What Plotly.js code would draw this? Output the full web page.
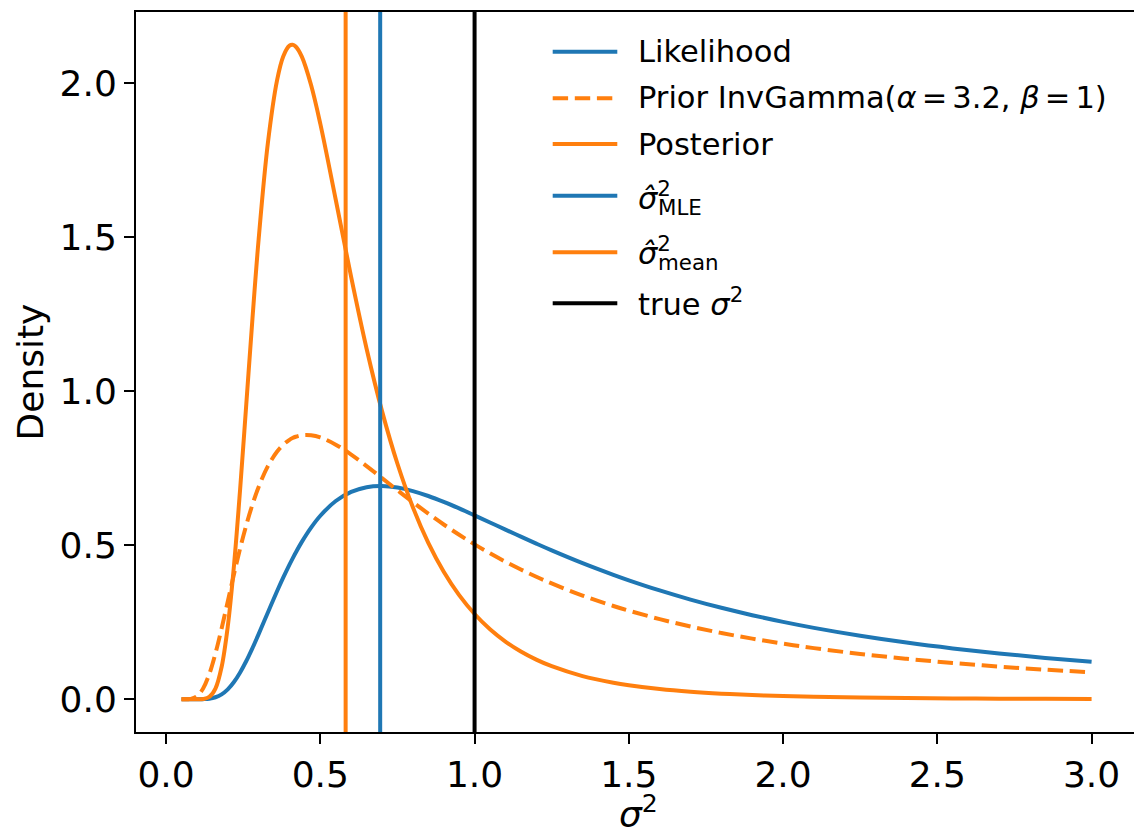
<!DOCTYPE html>
<html>
<head>
<meta charset="utf-8">
<script src="https://cdn.plot.ly/plotly-3.0.1.min.js"></script>
<style>
  html, body { margin: 0; padding: 0; background: #ffffff; overflow: hidden; }
  #chart { width: 1134px; height: 830px; }
</style>
</head>
<body>
<div id="chart"></div>
<script>
// Grid of sigma^2 values and the three densities evaluated on it
const sigma2 = [0.05, 0.08, 0.10, 0.12, 0.14, 0.16, 0.18, 0.20, 0.22, 0.24, 0.26, 0.28,
  0.30, 0.33, 0.36, 0.38, 0.40, 0.41, 0.42, 0.44, 0.47, 0.50, 0.55, 0.60, 0.65, 0.70,
  0.75, 0.80, 0.85, 0.90, 0.95, 1.00, 1.05, 1.10, 1.15, 1.20, 1.25, 1.35, 1.45, 1.50,
  1.60, 1.70, 1.80, 1.90, 2.00, 2.10, 2.25, 2.40, 2.55, 2.70, 2.85, 3.00];

const likelihood = [0.0000, 0.0000, 0.0000, 0.0004, 0.0019, 0.0065, 0.0160, 0.0323, 0.0560,
  0.0870, 0.1242, 0.1662, 0.2114, 0.2818, 0.3513, 0.3955, 0.4372, 0.4569, 0.4758, 0.5110,
  0.5573, 0.5959, 0.6437, 0.6735, 0.6887, 0.6924, 0.6874, 0.6760, 0.6600, 0.6408, 0.6196,
  0.5971, 0.5741, 0.5509, 0.5280, 0.5055, 0.4836, 0.4421, 0.4041, 0.3863, 0.3534, 0.3237,
  0.2970, 0.2730, 0.2513, 0.2318, 0.2062, 0.1841, 0.1651, 0.1486, 0.1343, 0.1218];

const prior = [0.0000, 0.0013, 0.0098, 0.0349, 0.0817, 0.1488, 0.2299, 0.3177, 0.4059,
  0.4896, 0.5656, 0.6324, 0.6894, 0.7569, 0.8046, 0.8268, 0.8425, 0.8481, 0.8524, 0.8574,
  0.8574, 0.8502, 0.8268, 0.7945, 0.7573, 0.7181, 0.6787, 0.6400, 0.6028, 0.5675, 0.5342,
  0.5030, 0.4738, 0.4466, 0.4214, 0.3978, 0.3760, 0.3368, 0.3029, 0.2877, 0.2602, 0.2363,
  0.2153, 0.1968, 0.1805, 0.1660, 0.1472, 0.1313, 0.1178, 0.1062, 0.0961, 0.0874];

const posterior = [0.0000, 0.0000, 0.0000, 0.0008, 0.0074, 0.0346, 0.1049, 0.2367, 0.4333,
  0.6817, 0.9580, 1.2361, 1.4931, 1.8060, 2.0112, 2.0882, 2.1224, 2.1253, 2.1197, 2.0867,
  1.9945, 1.8683, 1.6220, 1.3704, 1.1382, 0.9356, 0.7647, 0.6232, 0.5077, 0.4139, 0.3381,
  0.2769, 0.2275, 0.1875, 0.1551, 0.1288, 0.1073, 0.0753, 0.0537, 0.0455, 0.0331, 0.0244,
  0.0182, 0.0137, 0.0105, 0.0081, 0.0055, 0.0039, 0.0028, 0.0020, 0.0015, 0.0011];

// Point estimates shown as vertical lines
const sigma2MLE = 0.694;
const sigma2Mean = 0.582;
const sigma2True = 1.0;

const xTickVals = [0.0, 0.5, 1.0, 1.5, 2.0, 2.5, 3.0];
const xTickText = ['0.0', '0.5', '1.0', '1.5', '2.0', '2.5', '3.0'];
const yTickVals = [0.0, 0.5, 1.0, 1.5, 2.0];
const yTickText = ['0.0', '0.5', '1.0', '1.5', '2.0'];

const BLUE = '#1f77b4';
const ORANGE = '#ff7f0e';
const BLACK = '#000000';
const FONT = 'DejaVu Sans, Verdana, sans-serif';
const DASH = '15.4px,6.7px';
const LW = 4;
const THIN = '\u2006';

// Plot-area geometry (px) used to place the hand-built legend and the x label
const W = 1134, H = 830;
const M = { l: 136, r: 0, t: 12, b: 98 };
const PW = W - M.l - M.r, PH = H - M.t - M.b;
const px2x = px => (px - M.l) / PW;
const px2y = py => 1 - (py - M.t) / PH;

const curveLine = (color, dash) => ({ color: color, width: LW, dash: dash || 'solid', shape: 'spline', smoothing: 1.0 });

const traces = [
  { x: sigma2, y: likelihood, name: 'Likelihood', type: 'scatter', mode: 'lines', line: curveLine(BLUE), showlegend: false, hoverinfo: 'skip' },
  { x: sigma2, y: prior, name: 'Prior', type: 'scatter', mode: 'lines', line: curveLine(ORANGE, DASH), showlegend: false, hoverinfo: 'skip' },
  { x: sigma2, y: posterior, name: 'Posterior', type: 'scatter', mode: 'lines', line: curveLine(ORANGE), showlegend: false, hoverinfo: 'skip' }
];

const vline = (xv, color) => ({
  type: 'line', xref: 'x', yref: 'paper', x0: xv, x1: xv, y0: 0, y1: 1,
  line: { color: color, width: LW }, layer: 'above'
});

// Legend rows: handle colour/dash and the label text
const LEG_FS = 30.5;
const SUB_FS = 21.35;
const legendRows = [
  { color: BLUE,   dash: 'solid', hy: 51.7,  text: 'Likelihood', ty: 51.7 },
  { color: ORANGE, dash: DASH,    hy: 98.3,  text: 'Prior InvGamma(<i>α</i>' + THIN + '=' + THIN + '3.2, <i>β</i>' + THIN + '=' + THIN + '1)', ty: 97.5 },
  { color: ORANGE, dash: 'solid', hy: 144.0, text: 'Posterior', ty: 144.0 },
  { color: BLUE,   dash: 'solid', hy: 195.7, text: '<i>σ\u0302</i><sup>2</sup>', ty: 195.6, sub: 'MLE', sy: 207.2 },
  { color: ORANGE, dash: 'solid', hy: 252.3, text: '<i>σ\u0302</i><sup>2</sup>', ty: 250.9, sub: 'mean', sy: 262.9 },
  { color: BLACK,  dash: 'solid', hy: 303.3, text: 'true <i>σ</i><sup>2</sup>', ty: 302.2 }
];

const shapes = [vline(sigma2MLE, BLUE), vline(sigma2Mean, ORANGE), vline(sigma2True, BLACK)];
const annotations = [];
legendRows.forEach(r => {
  shapes.push({
    type: 'line', xref: 'paper', yref: 'paper',
    x0: px2x(552.7), x1: px2x(617.3), y0: px2y(r.hy), y1: px2y(r.hy),
    line: { color: r.color, width: LW, dash: r.dash }, layer: 'above'
  });
  annotations.push({
    xref: 'paper', yref: 'paper', x: px2x(636), y: px2y(r.ty),
    xanchor: 'left', yanchor: 'middle', showarrow: false, text: r.text,
    font: { family: FONT, size: LEG_FS, color: BLACK }
  });
  if (r.sub) {
    annotations.push({
      xref: 'paper', yref: 'paper', x: px2x(656), y: px2y(r.sy),
      xanchor: 'left', yanchor: 'middle', showarrow: false, text: r.sub,
      font: { family: FONT, size: SUB_FS, color: BLACK }
    });
  }
});

// x-axis label, centred under the axis
annotations.push({
  xref: 'paper', yref: 'paper', x: px2x(638), y: px2y(812),
  xanchor: 'center', yanchor: 'middle', showarrow: false,
  text: '<i>σ</i><sup>2</sup>',
  font: { family: FONT, size: 36, color: BLACK }
});

const axisCommon = {
  showline: true, linewidth: 2, linecolor: BLACK,
  ticks: 'outside', ticklen: 10, tickwidth: 2, tickcolor: BLACK,
  showgrid: false, zeroline: false, automargin: false,
  tickfont: { family: FONT, size: 36, color: BLACK }
};

const layout = {
  width: W, height: H,
  margin: M,
  paper_bgcolor: '#ffffff', plot_bgcolor: '#ffffff',
  font: { family: FONT, color: BLACK },
  showlegend: false,
  xaxis: Object.assign({}, axisCommon, {
    range: [-0.0975, 3.1375], tickvals: xTickVals, ticktext: xTickText, mirror: true
  }),
  yaxis: Object.assign({}, axisCommon, {
    range: [-0.1063, 2.2316], tickvals: yTickVals, ticktext: yTickText, mirror: false,
    title: { text: 'Density', font: { family: FONT, size: 36, color: BLACK }, standoff: 5 }
  }),
  shapes: shapes,
  annotations: annotations
};

Plotly.newPlot('chart', traces, layout, { staticPlot: true, displayModeBar: false });
</script>
</body>
</html>
